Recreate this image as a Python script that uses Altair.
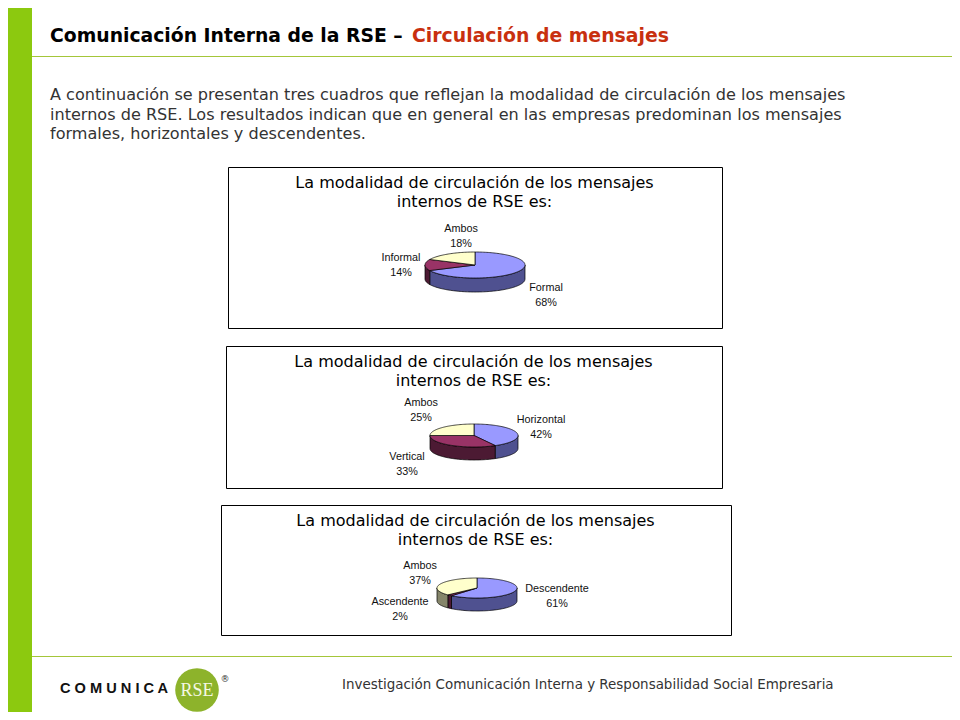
import math
import altair as alt

# ---- chart values ----
PIE1_NAMES = ["Formal", "Informal", "Ambos"]
PIE1_VALUES = [68, 14, 18]
PIE2_NAMES = ["Horizontal", "Vertical", "Ambos"]
PIE2_VALUES = [42, 33, 25]
PIE3_NAMES = ["Descendente", "Ascendente", "Ambos"]
PIE3_VALUES = [61, 2, 37]

TITLE_LINES = ["La modalidad de circulación de los mensajes", "internos de RSE es:"]
HEAD_BLACK = "Comunicación Interna de la RSE –"
HEAD_RED = "Circulación de mensajes"
BODY_LINES = [
    "A continuación se presentan tres cuadros que reflejan la modalidad de circulación de los mensajes",
    "internos de RSE. Los resultados indican que en general en las empresas predominan los mensajes",
    "formales, horizontales y descendentes.",
]
FOOTER = "Investigación Comunicación Interna y Responsabilidad Social Empresaria"

TOP_COLORS = ["#9999FF", "#993366", "#FFFFCC"]
WALL_COLORS = ["#4F5190", "#4C1A33", "#85856A"]

OFF = 8  # page margin; layout below is given in page pixels


def px(v):
    return alt.value(v - OFF)


def text(s, x, y, size, font="DejaVu Sans", color="#000000", weight="normal", align="left"):
    return alt.Chart(alt.Data(values=[{"t": s}])).mark_text(
        font=font, fontSize=size, color=color, fontWeight=weight, align=align, baseline="middle"
    ).encode(x=px(x), y=px(y), text="t:N")


def rect(x0, x1, y0, y1, fill=None, stroke=None, sw=1):
    kw = {"fill": fill if fill else "transparent"}
    if stroke:
        kw.update(stroke=stroke, strokeWidth=sw)
    return alt.Chart(alt.Data(values=[{"a": 1}])).mark_rect(**kw).encode(
        x=px(x0), x2=px(x1), y=px(y0), y2=px(y1)
    )


def hline(x0, x1, y, color):
    return alt.Chart(alt.Data(values=[{"a": 1}])).mark_rule(color=color, strokeWidth=1).encode(
        x=px(x0), x2=px(x1), y=px(y)
    )


def ell(cx, cy, rx, ry, a):
    return [cx + rx * math.sin(a) - OFF, cy - ry * math.cos(a) - OFF]


def arc_pts(a0, a1):
    n = max(2, int(abs(a1 - a0) / 0.03) + 2)
    return [a0 + (a1 - a0) * i / (n - 1) for i in range(n)]


def feature(ring, fill):
    ring = ring + [ring[0]]
    return {"type": "Feature", "properties": {"fill": fill},
            "geometry": {"type": "Polygon", "coordinates": [ring]}}


def pie(values, cx, cy, rx, ry, depth):
    total = sum(values)
    angles = [0.0]
    for v in values:
        angles.append(angles[-1] + v / total * 2 * math.pi)
    walls, tops = [], []
    for i in range(len(values)):
        a0, a1 = angles[i], angles[i + 1]
        # visible wall: the front half of the ellipse
        lo, hi = max(a0, math.pi / 2), min(a1, 3 * math.pi / 2)
        if hi > lo:
            ts = arc_pts(lo, hi)
            ring = [ell(cx, cy, rx, ry, t) for t in ts] + [
                ell(cx, cy + depth, rx, ry, t) for t in reversed(ts)
            ]
            walls.append(feature(ring, WALL_COLORS[i]))
        ring = [[cx - OFF, cy - OFF]] + [ell(cx, cy, rx, ry, t) for t in arc_pts(a0, a1)]
        tops.append(feature(ring, TOP_COLORS[i]))
    return walls + tops


def pie_layer(values, cx, cy, rx, ry, depth):
    return alt.Chart(
        alt.Data(values=pie(values, cx, cy, rx, ry, depth), format=alt.DataFormat(type="json"))
    ).mark_geoshape(stroke="#000000", strokeWidth=0.7).encode(
        color=alt.Color("properties.fill:N", scale=None)
    ).project(type="identity", scale=1, translate=[0, 0])


def panel(names, values, frame, title_x, title_y, label_pos, geom):
    x0, x1, y0, y1 = frame
    out = [rect(x0, x1, y0, y1, fill="#FFFFFF", stroke="#000000", sw=1)]
    out.append(text(TITLE_LINES[0], title_x, title_y, 16, color="#000000", align="center"))
    out.append(text(TITLE_LINES[1], title_x, title_y + 19, 16, color="#000000", align="center"))
    out.append(pie_layer(values, *geom))
    for n, v, (lx, ly) in zip(names, values, label_pos):
        out.append(text(n, lx, ly, 10.8, font="Liberation Sans", color="#111111", align="center"))
        out.append(text(f"{v}%", lx, ly + 15, 10.8, font="Liberation Sans", color="#111111", align="center"))
    return out


layers = [
    rect(OFF, 32, OFF, 712, fill="#8CC90F"),
    hline(32, 952, 56.5, "#A4C639"),
    hline(32, 952, 656.5, "#A4C639"),
    text(HEAD_BLACK, 50, 36, 18.8, weight="bold"),
    text(HEAD_RED, 412, 36, 18.85, weight="bold", color="#C8300F"),
]
for i, line in enumerate(BODY_LINES):
    layers.append(text(line, 50, 95 + i * 19.5, 16.08, color="#333333"))

layers += panel(PIE1_NAMES, PIE1_VALUES, (228.5, 722.5, 167.5, 328.5), 474.5, 183,
                [(546, 288), (401, 258), (461, 229)], (475, 265, 50, 13, 14))
layers += panel(PIE2_NAMES, PIE2_VALUES, (226.5, 722.5, 346.5, 488.5), 473.5, 362,
                [(541, 420), (407, 457), (421, 403)], (474, 435.5, 44, 11.5, 13))
layers += panel(PIE3_NAMES, PIE3_VALUES, (221.5, 731.5, 505.5, 635.5), 475.5, 521,
                [(557, 589), (400, 602), (420, 566)], (477, 588, 40, 10, 13))

# footer and logo
layers.append(text(FOOTER, 342, 685, 13.45, color="#333333"))
layers.append(text("C O M U N I C A", 60, 689, 14.6, font="Liberation Sans", weight="bold", color="#111111"))
layers.append(
    alt.Chart(alt.Data(values=[{"a": 1}])).mark_point(
        filled=True, shape="circle", size=1900, color="#8DB32B", opacity=1
    ).encode(x=px(197), y=px(690))
)
layers.append(text("RSE", 197, 691, 18, font="Liberation Serif", color="#F4F8E4", align="center"))
layers.append(text("®", 225, 679, 9, color="#333333", align="center"))

chart = alt.layer(*layers).properties(
    width=944, height=704, padding=0, background="#FFFFFF",
    autosize=alt.AutoSizeParams(type="none"),
).configure_view(stroke=None)

chart.save("out.html", embed_options={"renderer": "svg", "actions": False})
